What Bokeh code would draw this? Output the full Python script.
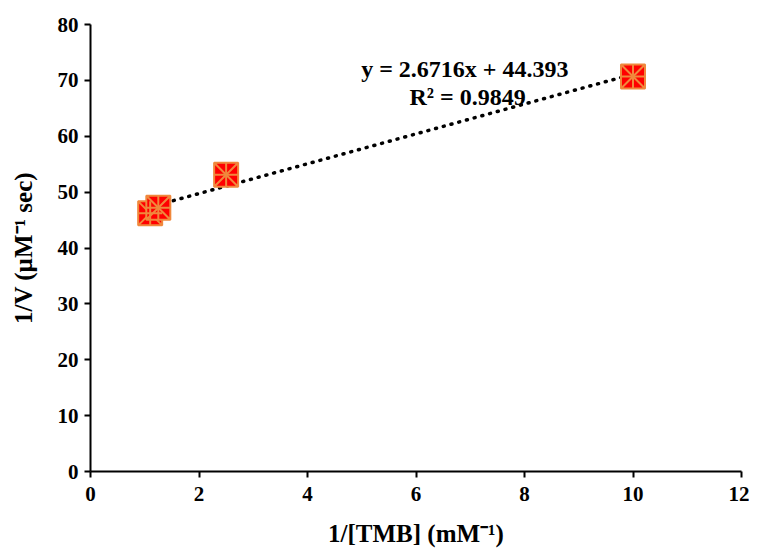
from bokeh.plotting import figure
from bokeh.models import Range1d, FixedTicker, ColumnDataSource
from bokeh.core.properties import value
from bokeh.embed import file_html
from bokeh.resources import INLINE
import numpy as np

# data
inv_tmb = [1.1, 1.25, 2.5, 10.0]
inv_v = [46.2, 47.2, 53.1, 70.7]
slope = 2.6716
intercept = 44.393
r2 = 0.9849
x_ticks = [0, 2, 4, 6, 8, 10, 12]
y_ticks = [0, 10, 20, 30, 40, 50, 60, 70, 80]

FONT = "Liberation Serif"

p = figure(width=749, height=550, output_backend="svg", toolbar_location=None,
           x_range=Range1d(0, 12), y_range=Range1d(0, 80),
           min_border_left=90, min_border_right=8, min_border_top=24, min_border_bottom=79)
p.outline_line_color = None
p.xgrid.visible = False
p.ygrid.visible = False

for ax in (p.xaxis, p.yaxis):
    ax.axis_line_width = 2
    ax.axis_line_color = "black"
    ax.major_tick_line_width = 2
    ax.major_tick_out = 6
    ax.major_tick_in = 0
    ax.minor_tick_line_color = None
    ax.major_label_text_font = FONT
    ax.major_label_text_font_style = "bold"
    ax.major_label_text_font_size = "21px"
    ax.major_label_text_color = "black"
    ax.axis_label_text_font = FONT
    ax.axis_label_text_font_style = "bold"
    ax.axis_label_text_font_size = "25px"
    ax.axis_label_text_color = "black"

p.xaxis.ticker = FixedTicker(ticks=x_ticks)
p.yaxis.ticker = FixedTicker(ticks=y_ticks)
p.xaxis.axis_label = "1/[TMB] (mM\u207b\u00b9)"
p.yaxis.axis_label = "1/V (\u00b5M\u207b\u00b9 sec)"
p.xaxis.major_label_standoff = 9
p.yaxis.major_label_standoff = 6
p.xaxis.axis_label_standoff = 16
p.yaxis.axis_label_standoff = 18

# trendline
xf = np.array([min(inv_tmb), max(inv_tmb)])
yf = slope * xf + intercept
p.line(xf, yf, line_color="black", line_width=3.5, line_dash="1 7", line_cap="round")

src = ColumnDataSource(dict(x=inv_tmb, y=inv_v))
p.scatter("x", "y", source=src, marker="square_x", size=24, fill_color="#FF0000",
          line_color="#F0883C", line_width=2)
p.scatter("x", "y", source=src, marker="cross", size=24, line_color="#F0883C", line_width=2)

p.text(x=[6.9], y=[72.1], text=["y = 2.6716x + 44.393"], text_font=value(FONT),
       text_font_style="bold", text_font_size="24px", text_align="center",
       text_baseline="middle", text_color="black")
p.text(x=[6.95], y=[67.1], text=["R\u00b2 = %.4f" % r2], text_font=value(FONT),
       text_font_style="bold", text_font_size="24px", text_align="center",
       text_baseline="middle", text_color="black")

open("out.html", "w").write(file_html(p, INLINE))
